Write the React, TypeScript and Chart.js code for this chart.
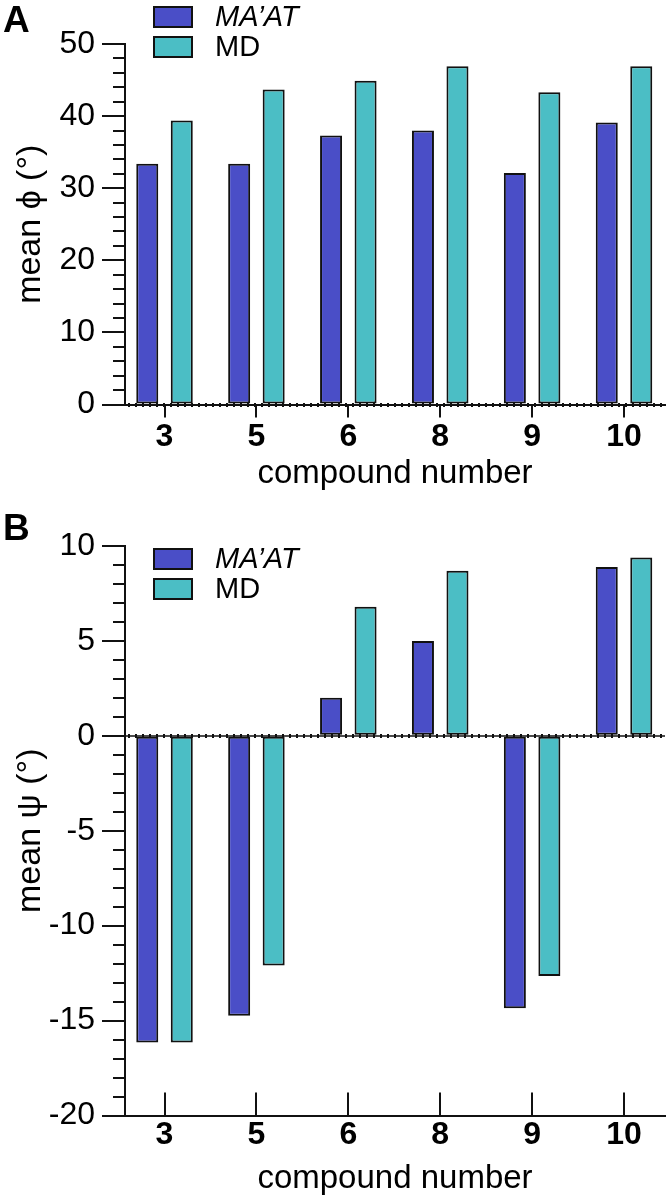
import React, { useEffect, useRef } from 'react';
import { Chart, registerables } from 'chart.js';

Chart.register(...registerables);

const FONT = '"Liberation Sans", Arial, Helvetica, sans-serif';

// Compounds along the x axis
const compounds = ['3', '5', '6', '8', '9', '10'];
const seriesLabels = ['MA’AT', 'MD'];
const seriesColors = ['#4A4EC7', '#4BBEC5'];

// Mean phi torsion angles (degrees)
const phiMaat = [33.4, 33.4, 37.3, 38.0, 32.1, 39.1];
const phiMd = [39.4, 43.7, 44.9, 46.9, 43.3, 46.9];

// Mean psi torsion angles (degrees)
const psiMaat = [-16.15, -14.75, 2.0, 5.0, -14.35, 8.9];
const psiMd = [-16.15, -12.1, 6.8, 8.7, -12.65, 9.4];

// Axis ranges and tick steps
const phiRange = [0, 50];
const phiMajor = 10;
const phiMinor = 2;
const psiRange = [-20, 10];
const psiMajor = 5;
const psiMinor = 1;

const INK = '#111';

function strokeLine(ctx: CanvasRenderingContext2D, x1: number, y1: number, x2: number, y2: number) {
  ctx.beginPath();
  ctx.moveTo(x1, y1);
  ctx.lineTo(x2, y2);
  ctx.stroke();
}

// Minor y ticks, inward category ticks, dotted zero line and the legend
const axisExtras = {
  id: 'axisExtras',
  afterDraw(chart: any, _args: any, opts: any) {
    const { ctx, chartArea: area } = chart;
    const xs = chart.scales.x;
    const ys = chart.scales.y;
    ctx.save();
    ctx.strokeStyle = INK;
    ctx.lineWidth = 2;

    const n = Math.round((ys.max - ys.min) / opts.minorStep);
    for (let i = 0; i <= n; i++) {
      const v = ys.min + i * opts.minorStep;
      const r = v / opts.majorStep;
      if (Math.abs(r - Math.round(r)) < 1e-6) continue;
      const py = Math.round(ys.getPixelForValue(v));
      strokeLine(ctx, area.left - opts.minorLen, py, area.left, py);
    }

    if (opts.innerTickLen) {
      xs.ticks.forEach((t: any) => {
        const px = Math.round(xs.getPixelForValue(t.value));
        strokeLine(ctx, px, area.bottom - opts.innerTickLen, px, area.bottom);
      });
    }

    const py0 = Math.round(ys.getPixelForValue(0));
    ctx.lineWidth = 1.5;
    strokeLine(ctx, area.left, py0, area.right, py0);
    ctx.setLineDash([2, 5]);
    ctx.lineWidth = 4;
    strokeLine(ctx, area.left + 3, py0, area.right, py0);
    ctx.setLineDash([]);

    const lg = opts.legend;
    chart.data.datasets.forEach((ds: any, i: number) => {
      const top = lg.top + i * lg.rowGap;
      ctx.fillStyle = ds.backgroundColor;
      ctx.fillRect(lg.left, top, lg.boxW, lg.boxH);
      ctx.lineWidth = 2;
      ctx.strokeStyle = INK;
      ctx.strokeRect(lg.left, top, lg.boxW, lg.boxH);
      ctx.fillStyle = '#000';
      ctx.font = `${lg.italic[i] ? 'italic ' : ''}${lg.fontSize}px ${FONT}`;
      ctx.textBaseline = 'middle';
      ctx.textAlign = 'left';
      ctx.fillText(ds.label, lg.textX, top + lg.boxH / 2 + 1);
    });
    ctx.restore();
  },
};

function makeChart(
  canvas: HTMLCanvasElement,
  a: number[],
  b: number[],
  range: number[],
  major: number,
  minor: number,
  yTitle: string,
  geom: { top: number; xHeight: number; titleBottom: number; innerTickLen: number; xTickLen: number; legendTop: number }
) {
  const toPoints = (vals: number[]) => vals.map((v, i) => ({ x: i, y: v }));
  return new Chart(canvas, {
    type: 'bar',
    data: {
      datasets: [
        {
          label: seriesLabels[0],
          data: toPoints(a),
          backgroundColor: seriesColors[0],
          borderColor: INK,
          borderWidth: 2,
          borderSkipped: false,
        },
        {
          label: seriesLabels[1],
          data: toPoints(b),
          backgroundColor: seriesColors[1],
          borderColor: INK,
          borderWidth: 2,
          borderSkipped: false,
        },
      ],
    },
    options: {
      responsive: false,
      animation: false,
      events: [],
      categoryPercentage: 0.751,
      barPercentage: 0.638,
      layout: { padding: { top: geom.top, right: 2, left: 0, bottom: 0 } },
      plugins: {
        legend: { display: false },
        tooltip: { enabled: false },
        axisExtras: {
          minorStep: minor,
          majorStep: major,
          minorLen: 12,
          innerTickLen: geom.innerTickLen,
          legend: {
            left: 154,
            top: geom.legendTop,
            rowGap: 30,
            boxW: 38,
            boxH: 20,
            textX: 215,
            fontSize: 29,
            italic: [true, false],
          },
        },
      },
      scales: {
        x: {
          type: 'linear',
          offset: false,
          min: -0.43,
          max: 5.446,
          afterBuildTicks: (s: any) => {
            s.ticks = compounds.map((_, i) => ({ value: i }));
          },
          afterFit: (s: any) => {
            s.height = geom.xHeight;
          },
          ticks: {
            callback: (v: any) => compounds[v] ?? '',
            font: { family: FONT, size: 32, weight: 'bold' },
            color: '#000',
            padding: 0,
            maxRotation: 0,
            autoSkip: false,
          },
          grid: {
            display: true,
            offset: false,
            drawOnChartArea: false,
            drawTicks: geom.xTickLen > 0,
            tickLength: geom.xTickLen,
            lineWidth: 2,
            color: INK,
          },
          border: { display: true, width: 2, color: INK },
          title: {
            display: true,
            text: 'compound number',
            font: { family: FONT, size: 33 },
            color: '#000',
            padding: { top: 0, bottom: geom.titleBottom },
          },
        },
        y: {
          min: range[0],
          max: range[1],
          afterFit: (s: any) => {
            s.width = 125;
          },
          ticks: {
            stepSize: major,
            font: { family: FONT, size: 32 },
            color: '#000',
            padding: 7,
          },
          grid: {
            display: true,
            drawOnChartArea: false,
            drawTicks: true,
            tickLength: 23,
            lineWidth: 2,
            color: INK,
          },
          border: { display: true, width: 2, color: INK },
          title: {
            display: true,
            text: yTitle,
            font: { family: FONT, size: 34 },
            color: '#000',
            padding: { top: 10, bottom: 0 },
          },
        },
      },
    },
    plugins: [axisExtras],
  } as any);
}

export default function App() {
  const refA = useRef<HTMLCanvasElement>(null);
  const refB = useRef<HTMLCanvasElement>(null);

  useEffect(() => {
    const chartA = makeChart(refA.current!, phiMaat, phiMd, phiRange, phiMajor, phiMinor, 'mean ϕ (°)', {
      top: 44,
      xHeight: 95.5,
      titleBottom: 6,
      innerTickLen: 0,
      xTickLen: 13,
      legendTop: 7,
    });
    const chartB = makeChart(refB.current!, psiMaat, psiMd, psiRange, psiMajor, psiMinor, 'mean ψ (°)', {
      top: 46,
      xHeight: 87.5,
      titleBottom: 4,
      innerTickLen: 23,
      xTickLen: 0,
      legendTop: 49,
    });
    return () => {
      chartA.destroy();
      chartB.destroy();
    };
  }, []);

  const letter: React.CSSProperties = {
    position: 'absolute',
    left: 3,
    fontFamily: FONT,
    fontWeight: 'bold',
    fontSize: 37,
    lineHeight: '37px',
    color: '#000',
  };

  return (
    <div style={{ position: 'absolute', left: 0, top: 0, width: 667, height: 1203, background: '#fff' }}>
      <canvas ref={refA} width={667} height={500} style={{ position: 'absolute', left: 0, top: 0, width: 667, height: 500 }} />
      <canvas ref={refB} width={667} height={703} style={{ position: 'absolute', left: 0, top: 500, width: 667, height: 703 }} />
      <div style={{ ...letter, top: 1 }}>A</div>
      <div style={{ ...letter, top: 509 }}>B</div>
    </div>
  );
}
